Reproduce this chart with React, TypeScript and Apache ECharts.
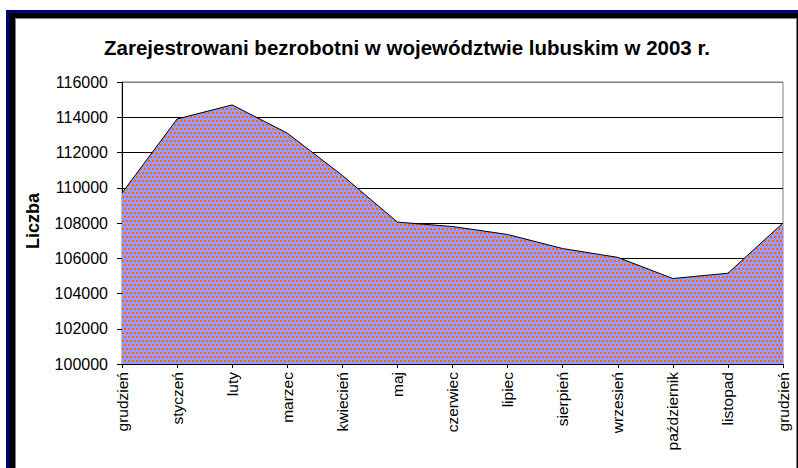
import React, { useEffect, useRef } from "react";
import * as echarts from "echarts";

const months = [
  "grudzień", "styczeń", "luty", "marzec", "kwiecień", "maj", "czerwiec",
  "lipiec", "sierpień", "wrzesień", "październik", "listopad", "grudzień",
];
const unemployed = [
  109700, 113900, 114700, 113100, 110700, 108050, 107800,
  107350, 106550, 106050, 104850, 105150, 108000,
];
const yMin = 100000;
const yMax = 116000;
const yStep = 2000;
const titleText = "Zarejestrowani bezrobotni w województwie lubuskim w 2003 r.";
const yAxisTitle = "Liczba";

const FONT = "'Liberation Sans', Arial, sans-serif";

function makePattern(): HTMLCanvasElement {
  const c = document.createElement("canvas");
  c.width = 4;
  c.height = 8;
  const ctx = c.getContext("2d")!;
  ctx.fillStyle = "#9999FF";
  ctx.fillRect(0, 0, 4, 8);
  ctx.fillStyle = "#FF6600";
  ctx.fillRect(0, 0, 2, 2);
  ctx.fillRect(2, 4, 2, 2);
  return c;
}

export default function App() {
  const ref = useRef<HTMLDivElement>(null);
  useEffect(() => {
    if (!ref.current) return;
    const chart = echarts.init(ref.current, undefined, { renderer: "svg" });
    const pattern = makePattern();
    const splitColors: string[] = [];
    for (let v = yMin; v <= yMax; v += yStep) splitColors.push(v === yMax ? "#808080" : "#000000");
    chart.setOption({
      animation: false,
      backgroundColor: "#ffffff",
      title: {
        text: titleText,
        left: 402,
        textAlign: "center",
        top: 32,
        textStyle: { fontFamily: FONT, fontSize: 20.5, fontWeight: "bold", color: "#000" },
      },
      graphic: [
        { type: "rect", z: -10, shape: { x: 6, y: 10, width: 900, height: 600 }, style: { fill: "#000080" } },
        { type: "rect", z: -9, shape: { x: 9, y: 13, width: 900, height: 600 }, style: { fill: "#000000" } },
        { type: "rect", z: -8, shape: { x: 15, y: 18, width: 782, height: 600 }, style: { fill: "#808080" } },
        { type: "rect", z: -7, shape: { x: 16, y: 19, width: 780, height: 600 }, style: { fill: "#ffffff" } },
        {
          type: "text",
          x: 33,
          y: 221,
          rotation: Math.PI / 2,
          style: {
            text: yAxisTitle,
            fontFamily: FONT,
            fontSize: 18,
            fontWeight: "bold",
            fill: "#000",
            textAlign: "center",
            textVerticalAlign: "middle",
          },
        },
      ],
      grid: {
        left: 122,
        right: 15,
        top: 82,
        bottom: 104,
        show: true,
        borderColor: "#808080",
        borderWidth: 1,
        backgroundColor: "transparent",
      },
      xAxis: {
        type: "category",
        data: months,
        boundaryGap: false,
        axisLine: { lineStyle: { color: "#000", width: 1 } },
        axisTick: { alignWithLabel: true, length: 4, lineStyle: { color: "#000" } },
        axisLabel: {
          rotate: 90,
          interval: 0,
          margin: 8,
          fontFamily: FONT,
          fontSize: 15.5,
          color: "#000",
        },
        splitLine: { show: false },
      },
      yAxis: {
        type: "value",
        min: yMin,
        max: yMax,
        interval: yStep,
        axisLine: { show: true, lineStyle: { color: "#000", width: 1 } },
        axisTick: { show: true, length: 5, lineStyle: { color: "#000" } },
        axisLabel: {
          margin: 14,
          fontFamily: FONT,
          fontSize: 16,
          color: "#000",
          formatter: (v: number) => String(v),
        },
        splitLine: { show: true, lineStyle: { color: splitColors, width: 1 } },
      },
      series: [
        {
          type: "line",
          data: unemployed,
          showSymbol: false,
          symbol: "none",
          lineStyle: { color: "#000", width: 1 },
          areaStyle: { color: { image: pattern, repeat: "repeat" }, opacity: 1 },
          z: 2,
        },
      ],
    });
    return () => chart.dispose();
  }, []);
  return (
    <div
      ref={ref}
      style={{ position: "absolute", left: 0, top: 0, width: 798, height: 468 }}
    />
  );
}
